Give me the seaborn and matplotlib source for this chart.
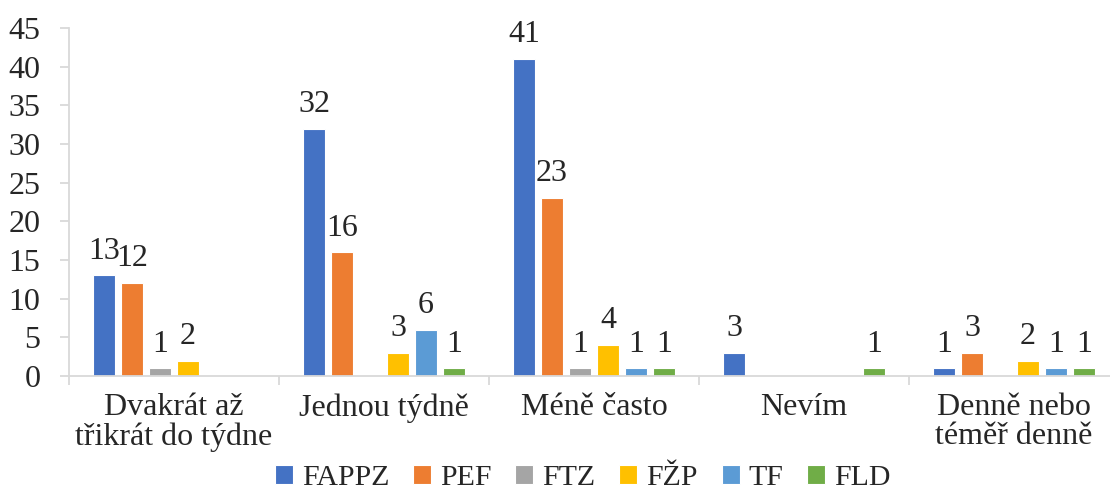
import matplotlib
matplotlib.use("Agg")
import matplotlib.pyplot as plt
import seaborn as sns
import pandas as pd
import numpy as np

categories = ["Dvakrát až\ntřikrát do týdne", "Jednou týdně", "Méně často", "Nevím",
              "Denně nebo\ntéměř denně"]
faculties = ["FAPPZ", "PEF", "FTZ", "FŽP", "TF", "FLD"]
fappz = [13, 32, 41, 3, 1]
pef = [12, 16, 23, 0, 3]
ftz = [1, 0, 1, 0, 0]
fzp = [2, 3, 4, 0, 2]
tf = [0, 6, 1, 0, 1]
fld = [0, 1, 1, 1, 1]
colors = ["#4472C4", "#ED7D31", "#A5A5A5", "#FFC000", "#5B9BD5", "#70AD47"]

series = [fappz, pef, ftz, fzp, tf, fld]
rows = []
for fac, vals in zip(faculties, series):
    for cat, v in zip(categories, vals):
        rows.append({"kategorie": cat, "fakulta": fac, "pocet": v})
df = pd.DataFrame(rows)

sns.set_style("white")
plt.rcParams["font.family"] = ["Liberation Serif", "DejaVu Serif"]

fig = plt.figure(figsize=(11.1, 4.96), dpi=100)
ax = fig.add_axes([69 / 1110, 120 / 496, 1050 / 1110, 348 / 496])

sns.barplot(data=df, x="kategorie", y="pocet", hue="fakulta", order=categories,
            hue_order=faculties, palette=colors, width=0.8, gap=0.2,
            edgecolor="white", linewidth=0.8, saturation=1, ax=ax, legend=True)

# hide empty bars and label the rest with their values
for cont, vals in zip(ax.containers, series):
    for bar, v in zip(cont, vals):
        if v == 0:
            bar.set_visible(False)
    ax.bar_label(cont, labels=[str(v) if v else "" for v in vals],
                 padding=7, fontsize=23)

ax.set_ylim(0, 45)
ax.set_yticks(np.arange(0, 46, 5))
ax.set_xlim(-0.5, 4.5)
ax.set_xlabel("")
ax.set_ylabel("")

for s in ["top", "right"]:
    ax.spines[s].set_visible(False)
ax.spines["left"].set_color("#D9D9D9")
ax.spines["bottom"].set_color("#D9D9D9")
ax.spines["left"].set_linewidth(1.3)
ax.spines["bottom"].set_linewidth(1.3)

ax.tick_params(axis="y", left=True, length=6.5, width=1.3, color="#D9D9D9",
               labelsize=23, pad=14)
ax.tick_params(axis="x", which="major", bottom=False, labelsize=23, pad=9)
# separator ticks between category groups
ax.set_xticks(np.arange(-0.5, 5.0, 1.0), minor=True)
ax.tick_params(axis="x", which="minor", bottom=True, length=6.5, width=1.3,
               color="#D9D9D9")
for lbl in ax.get_xticklabels():
    lbl.set_linespacing(1.0)

handles, labels = ax.get_legend_handles_labels()
ax.legend_.remove()
fig.legend(handles, labels, loc="center", bbox_to_anchor=(0.525, 0.036),
           ncol=6, frameon=False, fontsize=21.5, handlelength=0.6,
           handleheight=0.6, handletextpad=0.3, columnspacing=0.8,
           borderaxespad=0)

fig.savefig("out.png", dpi=100)
